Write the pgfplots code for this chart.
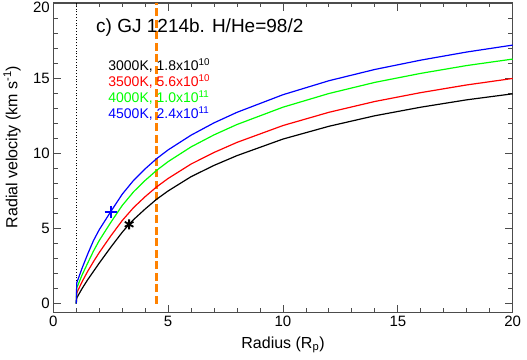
\documentclass[border=0pt]{standalone}
\usepackage{pgfplots}
\pgfplotsset{compat=1.18}
\usepackage{fontspec}
\setmainfont{Liberation Sans}
\definecolor{orng}{RGB}{255,130,0}
\definecolor{gr}{RGB}{0,255,0}
\definecolor{rd}{RGB}{255,0,0}
\definecolor{bl}{RGB}{0,0,255}

\pgfplotstableread{
x y
1.0 0
1.02 0.38
1.25 1.0
1.5 1.6
1.75 2.15
2.0 2.7
2.5 3.75
3.0 4.75
3.3 5.28
3.5 5.6
4.0 6.3
4.5 6.95
5.0 7.5
6.0 8.45
7.0 9.2
8.0 9.85
10.0 10.95
12.0 11.8
14.0 12.5
16.0 13.07
18.0 13.56
20.0 13.96
}\tblack
\pgfplotstableread{
x y
1.0 0
1.02 0.71
1.25 1.45
1.5 2.16
1.75 2.8
2.0 3.4
2.5 4.5
3.0 5.53
3.5 6.4
4.0 7.12
4.5 7.77
5.0 8.33
6.0 9.29
7.0 10.06
8.0 10.73
10 11.85
12 12.73
14 13.45
16 14.04
18 14.55
20 14.98
}\tred
\pgfplotstableread{
x y
1.0 0
1.02 1.04
1.25 1.9
1.5 2.71
1.75 3.5
2.0 4.2
2.5 5.4
3.0 6.53
3.5 7.45
4.0 8.2
4.5 8.87
5.0 9.45
6.0 10.43
7.0 11.23
8.0 11.92
10 13.07
12 13.98
14 14.72
16 15.32
18 15.84
20 16.27
}\tgreen
\pgfplotstableread{
x y
1.0 0
1.02 1.38
1.25 2.35
1.5 3.31
1.75 4.2
2.0 4.92
2.5 6.12
3.0 7.28
3.5 8.21
4.0 8.97
4.5 9.65
5.0 10.23
6.0 11.21
7.0 12.03
8.0 12.73
10 13.9
12 14.83
14 15.58
16 16.2
18 16.74
20 17.2
}\tblue

\begin{document}
\begin{tikzpicture}
\begin{axis}[
  scale only axis, width=459.4bp, height=309.7bp,
  xmin=0, xmax=20, ymin=-0.6, ymax=20,
  xtick={0,5,10,15,20}, ytick={0,5,10,15,20},
  yticklabels={0,5,10,15,{\raisebox{-4bp}[\height][\depth]{20}}},
  minor x tick num=4, minor y tick num=4,
  tick align=inside, major tick length=8bp, minor tick length=4.5bp,
  axis line style={line width=1.2bp, black!70},
  every tick/.style={black!70, line width=0.9bp},
  /pgf/number format/assume math mode=true,
  tick label style={font=\fontsize{15bp}{17bp}\selectfont},
  xlabel={Radius (R\textsubscript{p})},
  ylabel={Radial velocity (km s\textsuperscript{-1})},
  label style={font=\fontsize{16bp}{18bp}\selectfont},
  xlabel style={at={(axis description cs:0.5,0)}, anchor=base, yshift=-35.6bp},
  ylabel style={at={(axis description cs:0,0.535)}, anchor=center, rotate=0, yshift=41.3bp},
  clip=false,
]
\coordinate (BL) at (rel axis cs:0,0);
\coordinate (TR) at (rel axis cs:1,1);
\addplot[black, line width=0.8bp, dash pattern=on 1bp off 1.8bp] coordinates {(1,0) (1,20)};
\addplot[orng, line width=2.8bp, dash pattern=on 8bp off 3.5bp] coordinates {(4.5,0) (4.5,20)};
\addplot[black, line width=1.2bp] table {\tblack};
\addplot[rd, line width=1.2bp] table {\tred};
\addplot[gr, line width=1.2bp] table {\tgreen};
\addplot[bl, line width=1.2bp] table {\tblue};
\addplot[bl, only marks, mark=+, mark size=6bp, line width=2.2bp] coordinates {(2.5,6.1)};
\addplot[black, only marks, mark=asterisk, mark size=5bp, line width=1.8bp] coordinates {(3.3,5.28)};
\node[anchor=west, font=\fontsize{19bp}{21bp}\selectfont, inner sep=0pt] at (axis cs:1.86,18.35) {c) GJ 1214b. H/He=98/2};
\node[anchor=west, font=\fontsize{14bp}{16bp}\selectfont, inner sep=0pt, text=black] at (axis cs:2.39,15.83) {3000K, 1.8x10\textsuperscript{10}};
\node[anchor=west, font=\fontsize{14bp}{16bp}\selectfont, inner sep=0pt, text=rd] at (axis cs:2.39,14.77) {3500K, 5.6x10\textsuperscript{10}};
\node[anchor=west, font=\fontsize{14bp}{16bp}\selectfont, inner sep=0pt, text=gr] at (axis cs:2.39,13.7) {4000K, 1.0x10\textsuperscript{11}};
\node[anchor=west, font=\fontsize{14bp}{16bp}\selectfont, inner sep=0pt, text=bl] at (axis cs:2.39,12.64) {4500K, 2.4x10\textsuperscript{11}};
\end{axis}
\pgfresetboundingbox
\path[use as bounding box] ([shift={(-53.3bp,-47.3bp)}]BL) rectangle ([shift={(14.3bp,3bp)}]TR);
\end{tikzpicture}
\end{document}
